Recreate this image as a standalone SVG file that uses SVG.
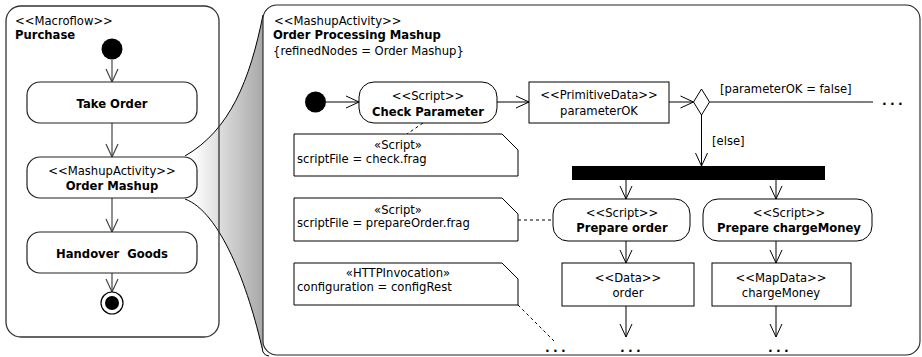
<svg xmlns="http://www.w3.org/2000/svg" width="922" height="357" viewBox="0 0 922 357">
<style>
text { font-family: "DejaVu Sans", "Liberation Sans", sans-serif; font-size: 11.6px; fill: #000; }
.b { font-weight: bold; }
.m { text-anchor: middle; }
.pre { white-space: pre; }
.lact { fill: #fff; stroke: #222; stroke-width: 1.2; }
.act { fill: #fff; stroke: #000; stroke-width: 1; }
.obj { fill: #fff; stroke: #000; stroke-width: 1; }
.note { fill: #fff; stroke: #000; stroke-width: 1; }
.flow { fill: none; stroke: #000; stroke-width: 1; marker-end: url(#arr); }
.gflow { fill: none; stroke: #444; stroke-width: 1.2; marker-end: url(#garr); }
.plain { fill: none; stroke: #000; stroke-width: 1; }
.dash { fill: none; stroke: #000; stroke-width: 1; stroke-dasharray: 3,3; }
.dots { font-size: 12.5px; font-weight: bold; letter-spacing: 3.2px; }
</style>
<defs>
<marker id="arr" viewBox="-14 -7 15 14" refX="0" refY="0" markerWidth="15" markerHeight="14" markerUnits="userSpaceOnUse" orient="auto">
<path d="M-13,-6 L0,0 L-13,6" fill="none" stroke="#000" stroke-width="1"/>
</marker>
<marker id="garr" viewBox="-14 -7 15 14" refX="0" refY="0" markerWidth="15" markerHeight="14" markerUnits="userSpaceOnUse" orient="auto">
<path d="M-13,-6 L0,0 L-13,6" fill="none" stroke="#444" stroke-width="1.2"/>
</marker>
<linearGradient id="wedgeGrad" gradientUnits="userSpaceOnUse" x1="192" y1="0" x2="263" y2="0">
<stop offset="0" stop-color="#ffffff"/>
<stop offset="1" stop-color="#a8a8a8"/>
</linearGradient>
</defs>

<!-- zoom wedge -->
<g id="wedge">
<path d="M185,156 C230,130 250,80 263,15 L263,352 C248,285 220,212 185,199 Z" fill="url(#wedgeGrad)" stroke="none"/>
<path d="M185,156 C230,130 250,80 263,15" fill="none" stroke="#000" stroke-width="1"/>
<path d="M185,199 C220,212 248,285 263,352 Q265,356 269,356" fill="none" stroke="#000" stroke-width="1"/>
</g>

<!-- left panel -->
<g id="macroflow">
<rect x="6" y="6" width="213" height="331" rx="15" fill="none" stroke="#333" stroke-width="1.3"/>
<text x="15" y="25">&lt;&lt;Macroflow&gt;&gt;</text>
<text x="15" y="39" class="b">Purchase</text>
</g>

<!-- right panel -->
<g id="mashup">
<rect x="263" y="5" width="657" height="350" rx="14" fill="#fff" stroke="#222" stroke-width="1.1"/>
<text x="274" y="25">&lt;&lt;MashupActivity&gt;&gt;</text>
<text x="273" y="39" class="b">Order Processing Mashup</text>
<text x="273" y="55">{refinedNodes = Order Mashup}</text>
</g>

<g id="connectors">
<line class="gflow" x1="112" y1="60" x2="112" y2="82"/>
<line class="gflow" x1="112" y1="123" x2="112" y2="157"/>
<line class="gflow" x1="112" y1="198" x2="112" y2="232"/>
<line class="gflow" x1="112" y1="273" x2="112" y2="292"/>

<line class="flow" x1="326" y1="102" x2="359" y2="102"/>
<line class="flow" x1="497" y1="102" x2="529" y2="102"/>
<line class="flow" x1="669" y1="102" x2="693.5" y2="102"/>
<line class="plain" x1="709.5" y1="102" x2="873" y2="102"/>
<line class="flow" x1="701.5" y1="115" x2="701.5" y2="166"/>
<line class="flow" x1="626" y1="180" x2="626" y2="199"/>
<line class="flow" x1="776" y1="180" x2="776" y2="199"/>
<line class="flow" x1="626" y1="241" x2="626" y2="263"/>
<line class="flow" x1="776" y1="241" x2="776" y2="263"/>
<line class="flow" x1="626" y1="306" x2="626" y2="337"/>
<line class="flow" x1="776" y1="306" x2="776" y2="337"/>

<line class="dash" x1="423" y1="123" x2="407" y2="134"/>
<line class="dash" x1="518" y1="220" x2="553" y2="220"/>
<line class="dash" x1="518" y1="305" x2="555" y2="342"/>

<text x="720" y="93">[parameterOK = false]</text>
<text x="712" y="145">[else]</text>
<text x="882" y="105" class="dots">...</text>
<text x="545" y="352" class="dots">...</text>
<text x="620" y="352" class="dots">...</text>
<text x="768" y="352" class="dots">...</text>
</g>

<!-- left panel nodes -->
<g id="start1"><circle cx="112" cy="49" r="10.5" fill="#000"/></g>
<g id="takeOrder">
<rect class="lact" x="27" y="82" width="170" height="41" rx="13"/>
<text x="112" y="108" class="b m">Take Order</text>
</g>
<g id="orderMashup">
<rect class="lact" x="27" y="157" width="170" height="41" rx="13"/>
<text x="112" y="175" class="m">&lt;&lt;MashupActivity&gt;&gt;</text>
<text x="112" y="190" class="b m">Order Mashup</text>
</g>
<g id="handover">
<rect class="lact" x="27" y="232" width="170" height="41" rx="13"/>
<text x="112" y="258" class="b m pre">Handover  Goods</text>
</g>
<g id="end1">
<circle cx="112" cy="303" r="11" fill="#fff" stroke="#000" stroke-width="1.2"/>
<circle cx="112" cy="303" r="7" fill="#000"/>
</g>

<!-- right panel nodes -->
<g id="start2"><circle cx="315.5" cy="102" r="10.5" fill="#000"/></g>
<g id="checkParameter">
<rect class="act" x="359" y="82" width="138" height="41" rx="15"/>
<text x="428" y="100" class="m">&lt;&lt;Script&gt;&gt;</text>
<text x="428" y="116" class="b m">Check Parameter</text>
</g>
<g id="parameterOK">
<rect class="obj" x="529" y="82" width="140" height="41"/>
<text x="599" y="99" class="m">&lt;&lt;PrimitiveData&gt;&gt;</text>
<text x="599" y="115" class="m">parameterOK</text>
</g>
<g id="decision">
<polygon points="701.5,89 709.5,102 701.5,115 693.5,102" fill="#fff" stroke="#000" stroke-width="1"/>
</g>
<g id="fork">
<rect x="572" y="166" width="253" height="14" fill="#000"/>
</g>
<g id="prepareOrder">
<rect class="act" x="553" y="199" width="137" height="42" rx="15"/>
<text x="622" y="217" class="m">&lt;&lt;Script&gt;&gt;</text>
<text x="622" y="232" class="b m">Prepare order</text>
</g>
<g id="prepareChargeMoney">
<rect class="act" x="703" y="199" width="169" height="42" rx="15"/>
<text x="789" y="217" class="m">&lt;&lt;Script&gt;&gt;</text>
<text x="789" y="232" class="b m">Prepare chargeMoney</text>
</g>
<g id="order">
<rect class="obj" x="562" y="263" width="132" height="43"/>
<text x="628" y="282" class="m">&lt;&lt;Data&gt;&gt;</text>
<text x="628" y="297" class="m">order</text>
</g>
<g id="chargeMoney">
<rect class="obj" x="712" y="263" width="139" height="43"/>
<text x="781" y="282" class="m">&lt;&lt;MapData&gt;&gt;</text>
<text x="781" y="297" class="m">chargeMoney</text>
</g>

<!-- notes -->
<g id="note1">
<path class="note" d="M294,134 H502 L518,150 V176 H294 Z"/>
<text x="398" y="149" class="m">«Script»</text>
<text x="297" y="163">scriptFile = check.frag</text>
</g>
<g id="note2">
<path class="note" d="M294,198 H502 L518,214 V241 H294 Z"/>
<text x="398" y="214" class="m">«Script»</text>
<text x="297" y="227">scriptFile = prepareOrder.frag</text>
</g>
<g id="note3">
<path class="note" d="M294,263 H502 L518,279 V305 H294 Z"/>
<text x="398" y="277" class="m">«HTTPInvocation»</text>
<text x="297" y="291">configuration = configRest</text>
</g>
</svg>
